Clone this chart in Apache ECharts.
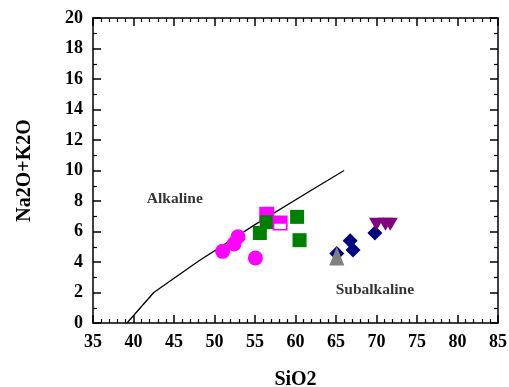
<!DOCTYPE html>
<html><head><meta charset="utf-8">
<script src="https://cdn.jsdelivr.net/npm/echarts@6/dist/echarts.min.js"></script>
<style>html,body{margin:0;padding:0;background:#fff}#c{width:509px;height:387px}</style>
</head><body><div id="c"></div>
<script>
var xTicks = [35,40,45,50,55,60,65,70,75,80,85];
var yTicks = [0,2,4,6,8,10,12,14,16,18,20];
var divideLine = [[39.2,0],[42.5,2],[48,4.05],[55,6.45],[62,8.72],[66,10]];
var magentaCircles = [[51.0,4.70],[52.4,5.18],[52.9,5.66],[55.05,4.26]];
var magentaSquares = [[56.45,7.13]];
var magentaHalfSquares = [[58.1,6.56]];
var greenSquares = [[56.45,6.61],[55.6,5.90],[60.2,6.96],[60.5,5.43]];
var navyDiamonds = [[65.1,4.55],[66.75,5.40],[67.1,4.79],[69.8,5.90]];
var grayTriangles = [[65.1,4.40]];
var purpleInvTriangles = [[70.0,6.48],[71.1,6.48],[71.7,6.48]];
var fieldLabels = [["Alkaline",45.1,8.15],["Subalkaline",69.8,2.15]];

var font = "Liberation Serif";
var chart = echarts.init(document.getElementById('c'), null, {renderer:'canvas'});
function axisBase(show) {
  return {
    axisLine:{show:true,onZero:false,lineStyle:{color:'#000',width:1.5}},
    axisTick:{show:true,inside:true,length:8,lineStyle:{color:'#000',width:1.5}},
    minorTick:{show:true,length:4,lineStyle:{color:'#000',width:1.2}},
    splitLine:{show:false},
    axisLabel:{show:show,color:'#000',fontFamily:font,fontWeight:'bold',fontSize:18,margin:10}
  };
}
var xb = axisBase(true), xt = axisBase(false), yl = axisBase(true), yr = axisBase(false);
var option = {
  animation:false,
  grid:{left:93,right:11,top:18,bottom:64,containLabel:false,outerBoundsMode:'none'},
  xAxis:[
    Object.assign(xb,{type:'value',min:xTicks[0],max:xTicks[xTicks.length-1],interval:5,position:'bottom',
      minorTick:Object.assign(xb.minorTick,{splitNumber:5}),
      name:'SiO2',nameLocation:'middle',nameGap:47,
      nameTextStyle:{color:'#000',fontFamily:font,fontWeight:'bold',fontSize:20}}),
    Object.assign(xt,{type:'value',min:xTicks[0],max:xTicks[xTicks.length-1],interval:5,position:'top',
      minorTick:Object.assign(xt.minorTick,{splitNumber:5})})
  ],
  yAxis:[
    Object.assign(yl,{type:'value',min:yTicks[0],max:yTicks[yTicks.length-1],interval:2,position:'left',
      minorTick:Object.assign(yl.minorTick,{splitNumber:2}),
      name:'Na2O+K2O',nameLocation:'middle',nameGap:58,
      nameTextStyle:{color:'#000',fontFamily:font,fontWeight:'bold',fontSize:20}}),
    Object.assign(yr,{type:'value',min:yTicks[0],max:yTicks[yTicks.length-1],interval:2,position:'right',
      minorTick:Object.assign(yr.minorTick,{splitNumber:2})})
  ],
  series:[
    {type:'line',data:divideLine,showSymbol:false,symbol:'none',lineStyle:{color:'#000',width:1.3},z:1},
    {type:'scatter',data:magentaCircles,symbol:'circle',symbolSize:15,itemStyle:{color:'#ff00ff',opacity:1},z:3},
    {type:'scatter',data:magentaSquares,symbol:'rect',symbolSize:15,itemStyle:{color:'#ff00ff',opacity:1},z:3},
    {type:'scatter',data:greenSquares,symbol:'rect',symbolSize:14,itemStyle:{color:'#008000',opacity:1},z:4},
    {type:'scatter',data:magentaHalfSquares,symbol:'path://M0,0 H10 V10 H0 Z M1.2,5.5 V9.1 H8.9 V5.5 Z',symbolSize:15,symbolKeepAspect:true,itemStyle:{color:'#ff00ff',opacity:1},z:4},
    {type:'scatter',data:navyDiamonds,symbol:'diamond',symbolSize:15,itemStyle:{color:'#000080',opacity:1},z:5},
    {type:'scatter',data:grayTriangles,symbol:'triangle',symbolSize:[15,19],itemStyle:{color:'#808080',opacity:1},z:6},
    {type:'scatter',data:purpleInvTriangles,symbol:'triangle',symbolRotate:180,symbolSize:[15,13],itemStyle:{color:'#800080',opacity:1},z:6},
    {type:'scatter',data:fieldLabels.map(function(d){return {value:[d[1],d[2]],name:d[0]};}),symbolSize:0,silent:true,
      label:{show:true,position:'inside',formatter:'{b}',color:'#000',fontFamily:font,fontWeight:'bold',fontSize:15.5},z:7}
  ]
};
chart.setOption(option);
</script></body></html>
